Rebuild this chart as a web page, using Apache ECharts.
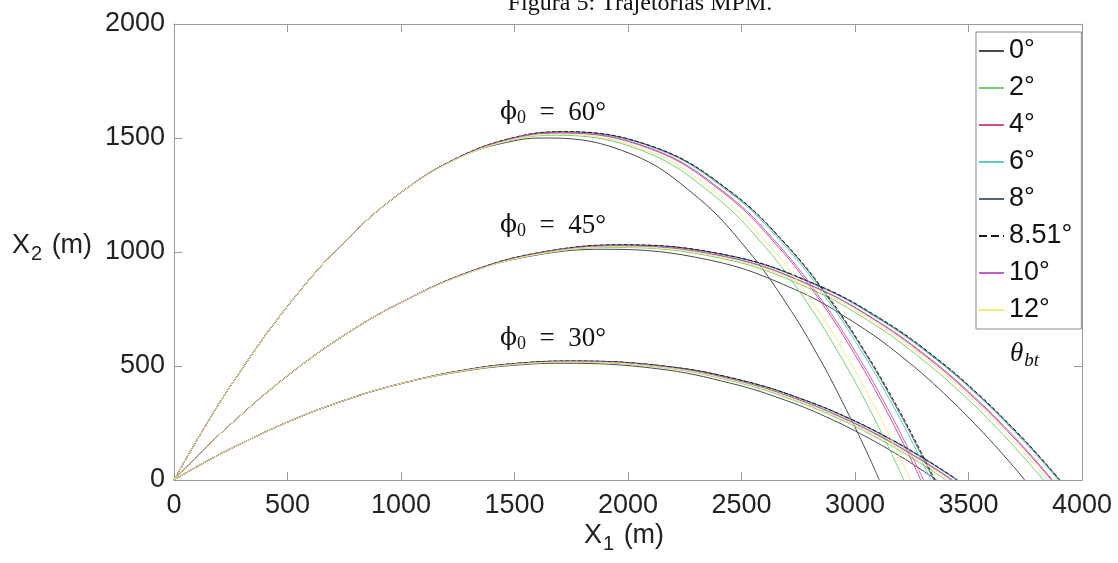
<!DOCTYPE html>
<html>
<head>
<meta charset="utf-8">
<script src="https://cdn.jsdelivr.net/npm/echarts@6/dist/echarts.min.js"></script>
<style>
    html, body { margin: 0; padding: 0; background: #fff; }
    #chart { width: 1118px; height: 563px; }
</style>
</head>
<body>
<div id="chart"></div>
<script>
    // burnout angles (legend order)
    var thetaLabels = ['0°', '2°', '4°', '6°', '8°', '8.51°', '10°', '12°'];
    var xTicks = [0, 500, 1000, 1500, 2000, 2500, 3000, 3500, 4000];
    var yTicks = [0, 500, 1000, 1500, 2000];

    // phi0 = 60 deg : common climb, then one tail per theta (same order as thetaLabels)
    var rise60 = [[0, 0], [100, 173], [250, 414], [500, 762], [750, 1044], [1000, 1261]];
    var fall60 = [
        [[1250, 1412], [1500, 1488], [1650, 1500], [2014, 1430], [2306, 1240], [2524, 1012], [2699, 772], [2845, 531], [2961, 310], [3049, 129], [3107, 0]],
        [[1250, 1410], [1500, 1493], [1690, 1512], [2071, 1441], [2376, 1250], [2605, 1021], [2788, 779], [2941, 535], [3063, 313], [3154, 130], [3215, 0]],
        [[1250, 1412], [1500, 1499], [1710, 1522], [2105, 1450], [2421, 1259], [2658, 1027], [2848, 784], [3006, 539], [3132, 315], [3227, 131], [3290, 0]],
        [[1250, 1413], [1500, 1501], [1718, 1526], [2122, 1454], [2446, 1262], [2688, 1030], [2882, 786], [3044, 540], [3173, 316], [3270, 131], [3335, 0]],
        [[1250, 1413], [1500, 1502], [1720, 1527], [2127, 1455], [2452, 1263], [2696, 1031], [2891, 786], [3054, 541], [3184, 316], [3282, 131], [3347, 0]],
        [[1250, 1414], [1500, 1503], [1720, 1528], [2128, 1456], [2454, 1264], [2699, 1031], [2895, 787], [3058, 541], [3189, 316], [3287, 131], [3352, 0]],
        [[1250, 1412], [1500, 1500], [1712, 1523], [2110, 1451], [2428, 1260], [2666, 1028], [2857, 784], [3016, 539], [3143, 315], [3238, 131], [3302, 0]],
        [[1250, 1410], [1500, 1495], [1700, 1516], [2086, 1445], [2395, 1254], [2627, 1023], [2812, 781], [2967, 537], [3091, 314], [3183, 130], [3245, 0]]
    ];

    // phi0 = 45 deg
    var rise45 = [[0, 0], [100, 102], [250, 245], [500, 457], [750, 635], [1000, 779]];
    var fall45 = [
        [[1300, 911], [1600, 987], [1900, 1012], [2362, 964], [2732, 837], [3009, 683], [3231, 521], [3415, 358], [3563, 209], [3674, 87], [3748, 0]],
        [[1300, 909], [1600, 989], [1940, 1020], [2413, 972], [2791, 844], [3074, 689], [3301, 525], [3490, 361], [3641, 211], [3754, 88], [3830, 0]],
        [[1300, 911], [1600, 992], [1955, 1026], [2433, 978], [2815, 849], [3101, 693], [3330, 528], [3521, 363], [3674, 212], [3789, 88], [3865, 0]],
        [[1300, 912], [1600, 994], [1965, 1030], [2448, 982], [2834, 852], [3123, 695], [3355, 530], [3548, 365], [3702, 213], [3818, 89], [3895, 0]],
        [[1300, 912], [1600, 995], [1968, 1031], [2451, 983], [2837, 853], [3127, 696], [3359, 531], [3552, 365], [3707, 213], [3823, 89], [3900, 0]],
        [[1300, 913], [1600, 996], [1970, 1032], [2453, 983], [2840, 853], [3130, 697], [3362, 532], [3555, 366], [3710, 214], [3826, 89], [3903, 0]],
        [[1300, 911], [1600, 993], [1958, 1027], [2436, 979], [2818, 849], [3105, 693], [3335, 529], [3526, 364], [3679, 213], [3794, 88], [3870, 0]],
        [[1300, 909], [1600, 990], [1950, 1023], [2425, 975], [2805, 846], [3090, 691], [3318, 527], [3508, 362], [3660, 212], [3774, 88], [3850, 0]]
    ];

    // phi0 = 30 deg
    var rise30 = [[0, 0], [100, 58], [250, 137], [500, 254], [750, 349], [1000, 423]];
    var fall30 = [
        [[1300, 481], [1550, 507], [1720, 512], [2130, 488], [2458, 423], [2704, 346], [2901, 264], [3065, 181], [3196, 106], [3294, 44], [3360, 0]],
        [[1300, 483], [1550, 510], [1740, 516], [2155, 492], [2487, 427], [2736, 348], [2935, 266], [3101, 183], [3234, 107], [3334, 44], [3400, 0]],
        [[1300, 485], [1550, 512], [1750, 519], [2169, 495], [2504, 429], [2755, 350], [2956, 267], [3124, 184], [3258, 107], [3358, 45], [3425, 0]],
        [[1300, 486], [1550, 514], [1758, 521], [2180, 497], [2517, 431], [2770, 352], [2973, 268], [3141, 184], [3276, 108], [3378, 45], [3445, 0]],
        [[1300, 486], [1550, 515], [1760, 522], [2183, 497], [2521, 432], [2774, 352], [2977, 269], [3146, 185], [3281, 108], [3382, 45], [3450, 0]],
        [[1300, 486], [1550, 515], [1760, 522], [2183, 497], [2521, 432], [2775, 352], [2978, 269], [3147, 185], [3283, 108], [3384, 45], [3452, 0]],
        [[1300, 485], [1550, 512], [1752, 519], [2172, 495], [2507, 429], [2759, 350], [2960, 267], [3128, 184], [3262, 107], [3363, 45], [3430, 0]],
        [[1300, 483], [1550, 511], [1745, 517], [2163, 493], [2497, 428], [2747, 349], [2947, 266], [3114, 183], [3248, 107], [3348, 44], [3415, 0]]
    ];

    var lineColors = ['#4a4a4a', '#74d174', '#d4517f', '#5ccfc0', '#4f6578', '#1a1a1a', '#c45ccc', '#eeee80'];
    var lineTypes = ['solid', 'solid', 'solid', 'solid', 'solid', 'dashed', 'solid', 'solid'];

    var sansFont = 'Liberation Sans, Arial, sans-serif';
    var serifFont = 'Liberation Serif, DejaVu Serif, serif';

    var series = [];
    thetaLabels.forEach(function (name, i) {
        [rise60.concat(fall60[i]), rise45.concat(fall45[i]), rise30.concat(fall30[i])].forEach(function (pts) {
            series.push({
                name: name,
                type: 'line',
                data: pts,
                symbol: 'none',
                smooth: 0.4,
                animation: false,
                lineStyle: { color: lineColors[i], width: 1, type: lineTypes[i] },
                itemStyle: { color: lineColors[i] }
            });
        });
    });

    var chart = echarts.init(document.getElementById('chart'));

    var frame = { show: true, onZero: false, lineStyle: { color: '#9a9a9a', width: 1 } };
    var innerTicks = { show: true, inside: true, length: 8, lineStyle: { color: '#9a9a9a' } };
    var plainNum = function (v) { return String(v); };

    var phiLabel = function (deg, top) {
        return {
            type: 'text', left: 500, top: top, z: 10,
            style: {
                text: '{p|ϕ}{s|0}{a|  =  ' + deg + '°}',
                rich: {
                    p: { fontSize: 25, fontFamily: 'DejaVu Serif, serif', fill: '#111' },
                    a: { fontSize: 27, fontFamily: serifFont, fill: '#111' },
                    s: { fontSize: 18, fontFamily: serifFont, fill: '#111', padding: [12, 0, 0, 0] }
                }
            }
        };
    };

    chart.setOption({
        backgroundColor: '#fff',
        animation: false,
        grid: { left: 174, right: 36, top: 24, bottom: 83, containLabel: false },
        legend: {
            data: thetaLabels,
            orient: 'vertical',
            left: 976,
            top: 32,
            padding: [4, 9, 4, 2],
            itemGap: 7,
            itemWidth: 25,
            itemHeight: 14,
            itemStyle: { opacity: 0 },
            borderColor: '#8c8c8c',
            borderWidth: 1,
            backgroundColor: '#fff',
            textStyle: { fontSize: 27, lineHeight: 30, color: '#111', fontFamily: sansFont }
        },
        xAxis: [{
            type: 'value', min: xTicks[0], max: xTicks[xTicks.length - 1], interval: 500,
            axisLine: frame, axisTick: innerTicks, splitLine: { show: false },
            axisLabel: { fontSize: 27, color: '#222', margin: 12, fontFamily: sansFont, formatter: plainNum }
        }, {
            type: 'value', position: 'top', min: 0, max: 4000, interval: 500,
            axisLine: frame, axisTick: innerTicks, splitLine: { show: false }, axisLabel: { show: false }
        }],
        yAxis: [{
            type: 'value', min: yTicks[0], max: yTicks[yTicks.length - 1], interval: 500,
            axisLine: frame, axisTick: innerTicks, splitLine: { show: false },
            axisLabel: { fontSize: 27, color: '#222', margin: 9, fontFamily: sansFont, formatter: plainNum }
        }, {
            type: 'value', position: 'right', min: 0, max: 2000, interval: 500,
            axisLine: frame, axisTick: innerTicks, splitLine: { show: false }, axisLabel: { show: false }
        }],
        graphic: [
            {
                type: 'text', x: 640, y: 16, z: 10,
                style: { text: 'Figura 5: Trajetórias MPM.', font: '24px ' + serifFont, fill: '#111', align: 'center', verticalAlign: 'bottom' }
            },
            {
                type: 'text', left: 584, top: 522, z: 10,
                style: {
                    text: '{a|X}{s|1}{a| (m)}',
                    rich: {
                        a: { fontSize: 27, fontFamily: sansFont, fill: '#222' },
                        s: { fontSize: 20, fontFamily: sansFont, fill: '#222', padding: [18, 2, 0, 1] }
                    }
                }
            },
            {
                type: 'text', left: 12, top: 232, z: 10,
                style: {
                    text: '{a|X}{s|2}{a| (m)}',
                    rich: {
                        a: { fontSize: 27, fontFamily: sansFont, fill: '#222' },
                        s: { fontSize: 20, fontFamily: sansFont, fill: '#222', padding: [18, 2, 0, 1] }
                    }
                }
            },
            phiLabel(60, 99),
            phiLabel(45, 212),
            phiLabel(30, 325),
            {
                type: 'text', left: 1010, top: 340, z: 10,
                style: {
                    text: '{a|θ}{s|bt}',
                    rich: {
                        a: { fontSize: 27, fontFamily: serifFont, fontStyle: 'italic', fill: '#111' },
                        s: { fontSize: 19, fontFamily: serifFont, fontStyle: 'italic', fill: '#111', padding: [14, 0, 0, 1] }
                    }
                }
            }
        ],
        series: series
    });
</script>
</body>
</html>
